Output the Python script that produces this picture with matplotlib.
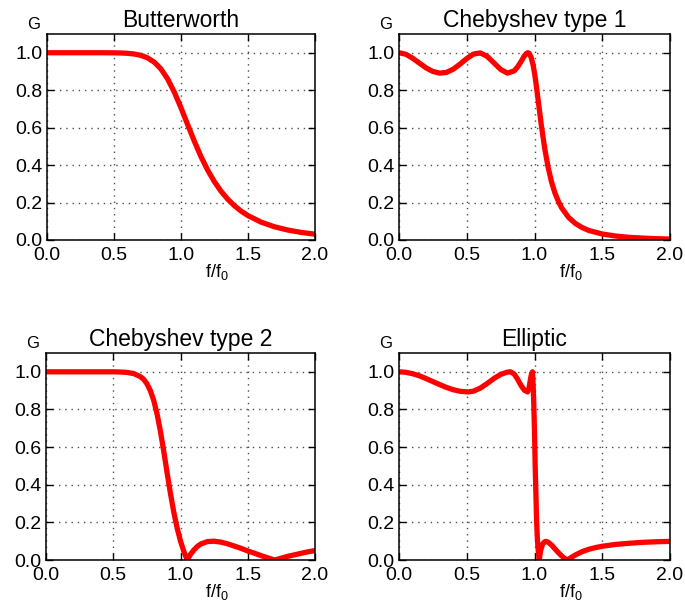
import matplotlib
matplotlib.use("Agg")
import matplotlib.pyplot as plt

plt.rcParams['font.family'] = ['Liberation Sans', 'DejaVu Sans']
plt.rcParams['mathtext.default'] = 'regular'

# gain curves, f/f0 -> G
bw_f = [0.0, 0.1, 0.2, 0.3, 0.4, 0.5, 0.55, 0.6, 0.65, 0.7, 0.75, 0.8, 0.85, 0.9, 0.95,
        1.0, 1.05, 1.1, 1.15, 1.2, 1.25, 1.3, 1.35, 1.4, 1.45, 1.5, 1.6, 1.7, 1.8, 1.9, 2.0]
bw_g = [1.0, 1.0, 1.0, 1.0, 1.0, 0.9995, 0.9987, 0.997, 0.9933, 0.9862, 0.973, 0.9502,
        0.9141, 0.8611, 0.7908, 0.7071, 0.6168, 0.5276, 0.4452, 0.3729, 0.3114, 0.2601,
        0.2176, 0.1828, 0.1541, 0.1306, 0.095, 0.0703, 0.0528, 0.0404, 0.0312]

c1_f = [0.0, 0.05, 0.1, 0.15, 0.2, 0.25, 0.3, 0.35, 0.4, 0.45, 0.5, 0.55, 0.6, 0.65, 0.7,
        0.75, 0.8, 0.85, 0.875, 0.9, 0.925, 0.94, 0.95, 0.96, 0.975, 0.99, 1.0, 1.01, 1.025,
        1.05, 1.075, 1.1, 1.125, 1.15, 1.175, 1.2, 1.25, 1.3, 1.35, 1.4, 1.5, 1.6, 1.7,
        1.8, 1.9, 2.0]
c1_g = [1.0, 0.992, 0.971, 0.945, 0.919, 0.900, 0.891, 0.895, 0.912, 0.939, 0.969, 0.993,
        0.999, 0.981, 0.946, 0.911, 0.891, 0.903, 0.924, 0.952, 0.983, 0.996, 1.0, 0.997,
        0.976, 0.933, 0.891, 0.842, 0.758, 0.615, 0.490, 0.390, 0.312, 0.253, 0.208, 0.172,
        0.122, 0.089, 0.067, 0.051, 0.032, 0.021, 0.014, 0.010, 0.007, 0.005]

c2_f = [0.0, 0.25, 0.5, 0.55, 0.6, 0.65, 0.7, 0.725, 0.75, 0.775, 0.8, 0.825, 0.85, 0.875,
        0.9, 0.925, 0.95, 0.975, 1.0, 1.025, 1.04, 1.052, 1.06, 1.075, 1.1, 1.125, 1.15,
        1.2, 1.25, 1.3, 1.35, 1.4, 1.45, 1.5, 1.55, 1.6, 1.65, 1.70, 1.75, 1.8, 1.85, 1.9,
        1.95, 2.0]
c2_g = [1.0, 1.0, 1.0, 0.999, 0.997, 0.991, 0.975, 0.961, 0.937, 0.901, 0.850, 0.778,
        0.686, 0.579, 0.464, 0.354, 0.254, 0.169, 0.100, 0.045, 0.018, 0.0, 0.012, 0.031,
        0.054, 0.072, 0.085, 0.098, 0.100, 0.095, 0.086, 0.074, 0.062, 0.048, 0.036, 0.023,
        0.011, 0.0, 0.010, 0.020, 0.028, 0.036, 0.044, 0.050]

el_f = [0.0, 0.05, 0.1, 0.15, 0.2, 0.25, 0.3, 0.35, 0.4, 0.45, 0.51, 0.55, 0.6, 0.65, 0.7,
        0.75, 0.8, 0.823, 0.85, 0.875, 0.9, 0.925, 0.949, 0.96, 0.97, 0.978, 0.985, 0.99,
        0.995, 1.0, 1.005, 1.01, 1.015, 1.02, 1.025, 1.03, 1.035, 1.045, 1.06, 1.075, 1.084,
        1.1, 1.125, 1.15, 1.175, 1.2, 1.22, 1.242, 1.27, 1.3, 1.35, 1.4, 1.45, 1.5, 1.6,
        1.7, 1.8, 1.9, 2.0]
el_g = [1.0, 0.9975, 0.990, 0.979, 0.964, 0.948, 0.932, 0.917, 0.905, 0.8965, 0.893,
        0.8973, 0.9134, 0.9377, 0.9642, 0.9863, 0.9986, 1.0, 0.9883, 0.961, 0.928, 0.9023,
        0.893, 0.916, 0.960, 0.990, 1.0, 0.93, 0.82, 0.68, 0.50, 0.36, 0.22, 0.13, 0.07,
        0.03, 0.0, 0.05, 0.085, 0.097, 0.099, 0.095, 0.080, 0.060, 0.040, 0.022, 0.010, 0.0,
        0.013, 0.026, 0.044, 0.057, 0.066, 0.073, 0.083, 0.089, 0.094, 0.097, 0.099]

titles = ["Butterworth", "Chebyshev type 1", "Chebyshev type 2", "Elliptic"]
curves = [(bw_f, bw_g), (c1_f, c1_g), (c2_f, c2_g), (el_f, el_g)]
xticks = [0.0, 0.5, 1.0, 1.5, 2.0]
yticks = [0.0, 0.2, 0.4, 0.6, 0.8, 1.0]

fig = plt.figure(figsize=(6.85, 6.03), dpi=100)
rects = [[0.0686, 0.602, 0.391, 0.3416],
         [0.5825, 0.602, 0.3956, 0.3416],
         [0.0672, 0.0713, 0.3927, 0.3433],
         [0.5825, 0.0713, 0.3956, 0.3433]]

for rect, title, (f, g) in zip(rects, titles, curves):
    ax = fig.add_axes(rect)
    ax.plot(f, g, color='red', lw=3.8, solid_capstyle='butt')
    ax.set_xlim(0, 2)
    ax.set_ylim(0, 1.1)
    ax.set_xticks(xticks)
    ax.set_yticks(yticks)
    ax.set_xticklabels([f"{t:.1f}" for t in xticks])
    ax.set_yticklabels([f"{t:.1f}" for t in yticks])
    ax.tick_params(direction='in', top=True, right=True, length=5, width=1,
                   labelsize=14)
    ax.tick_params(axis='x', pad=5)
    ax.tick_params(axis='y', pad=3)
    for s in ax.spines.values():
        s.set_linewidth(1.1)
    ax.grid(True, color='0.3', linestyle=(0, (1, 3.5)), lw=1.0)
    ax.set_title(title, fontsize=16.5, pad=5)
    ax.set_xlabel("f/f$_0$", fontsize=13)
    ax.xaxis.set_label_coords(0.634, -0.105)
    ax.set_ylabel("G", fontsize=12, rotation=0, ha='center', va='center')
    ax.yaxis.set_label_coords(-0.05, 1.045)

fig.savefig("out.png", dpi=100)
